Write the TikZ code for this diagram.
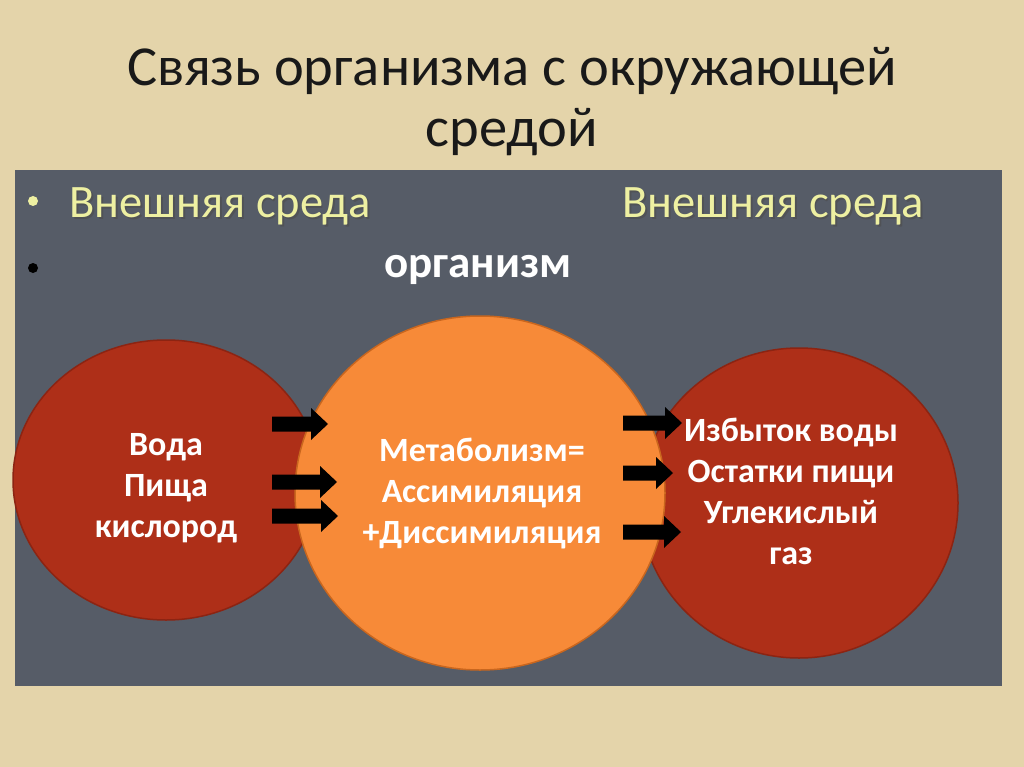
\documentclass[tikz,border=0pt]{standalone}
\usepackage{fontspec}
\setmainfont{Carlito}
\usetikzlibrary{shapes.geometric}
\definecolor{bg}{HTML}{E4D4AA}
\definecolor{panel}{HTML}{565C67}
\definecolor{redfill}{HTML}{AE2F18}
\definecolor{redline}{HTML}{8C2412}
\definecolor{orangefill}{HTML}{F78A38}
\definecolor{orangeline}{HTML}{C9661E}
\definecolor{yel}{HTML}{EEF0A2}
\tikzset{
  blob/.style={ellipse, inner sep=0pt, line width=1.5pt},
  redblob/.style={blob, fill=redfill, draw=redline},
  orangeblob/.style={blob, fill=orangefill, draw=orangeline},
  circtext/.style={text=white, align=center, font=\fontsize{34}{41}\selectfont\bfseries},
  envtext/.style={text=yel, anchor=base west, font=\fontsize{46.5}{50}\selectfont},
  shadowtext/.style={text=black!70, anchor=base west, font=\fontsize{46.5}{50}\selectfont, opacity=0.6},
  titletext/.style={text=black!90, anchor=base, font=\fontsize{56.5}{60}\selectfont},
  blockarrow/.style={fill=black}
}
\newcommand\barrow[3]{%
  \fill[blockarrow] (#1,#3-7.5) -- (#2-17,#3-7.5) -- (#2-17,#3-16) -- (#2,#3) -- (#2-17,#3+16) -- (#2-17,#3+7.5) -- (#1,#3+7.5) -- cycle;}
\begin{document}
\begin{tikzpicture}[x=1pt,y=-1pt]
\useasboundingbox (0,0) rectangle (1024,767);
\fill[bg] (0,0) rectangle (1024,767);
\node[titletext] (title1) at (512,86) {Связь организма с окружающей};
\node[titletext] (title2) at (512,147) {средой};
\fill[panel] (15,170) rectangle (1002,686);
% bullets
\fill[yel] (33,201) circle (5);
\fill[black] (33,268) circle (5);
\node[shadowtext] at (67.5,219.5) {Внешняя среда};
\node[envtext] (envL) at (66,218) {Внешняя среда};
\node[shadowtext] at (620.5,219.5) {Внешняя среда};
\node[envtext] (envR) at (619,218) {Внешняя среда};
\node[text=white, font=\fontsize{45}{50}\selectfont\bfseries] (org) at (478,270) {организм};
% circles
\node[redblob, minimum width=306pt, minimum height=280pt] (left) at (166,480) {};
\node[redblob, minimum width=318pt, minimum height=310pt] (right) at (799,503) {};
\node[orangeblob, minimum width=370pt, minimum height=354pt] (mid) at (480,493) {};
% arrows
\barrow{272}{328}{424}
\barrow{272}{337}{482}
\barrow{272}{338}{516}
\barrow{623}{682}{423}
\barrow{623}{673}{473}
\barrow{623}{681}{532}
% texts
\node[circtext] (lt) at (166,488) {Вода\\Пища\\кислород};
\node[circtext] (mt) at (482,494) {Метаболизм=\\Ассимиляция\\+Диссимиляция};
\node[circtext] (rt) at (791,491) {Избыток воды\\Остатки пищи\\Углекислый\\газ};
\end{tikzpicture}
\end{document}
